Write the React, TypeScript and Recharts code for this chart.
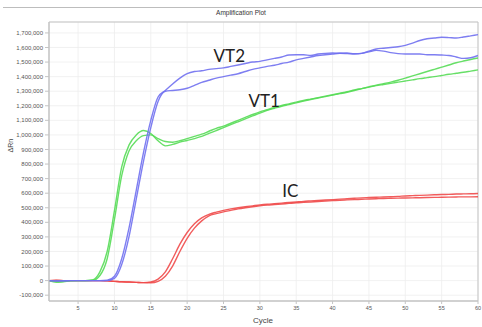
import React from "react";
import {
  LineChart,
  Line,
  XAxis,
  YAxis,
  CartesianGrid,
  ReferenceArea,
  ReferenceDot,
} from "recharts";

// cycle numbers 1..60
const cycles = [
  1, 2, 3, 4, 5, 6, 7, 8, 9, 10, 11, 12, 13, 14, 15, 16, 17, 18, 19, 20,
  21, 22, 23, 24, 25, 26, 27, 28, 29, 30, 31, 32, 33, 34, 35, 36, 37, 38, 39, 40,
  41, 42, 43, 44, 45, 46, 47, 48, 49, 50, 51, 52, 53, 54, 55, 56, 57, 58, 59, 60,
];

// ΔRn readings, in thousands
const vt1a = [
  0, -12, -8, -2, 0, 0, 5, 60, 200, 480, 780, 930, 1000, 1030, 1010, 960, 925, 935, 950, 962,
  975, 990, 1010, 1030, 1050, 1070, 1090, 1110, 1130, 1150, 1168, 1183, 1197, 1208, 1220, 1232, 1243, 1253, 1263, 1273,
  1283, 1293, 1305, 1318, 1330, 1342, 1352, 1362, 1375, 1390, 1405, 1420, 1435, 1450, 1465, 1480, 1495, 1507, 1518, 1528,
];
const vt1b = [
  0, -5, -3, 0, 0, 0, 2, 35, 150, 420, 720, 890, 960, 995, 1000, 975, 955, 950, 960, 975,
  990, 1005, 1025, 1045, 1060, 1080, 1100, 1120, 1140, 1158, 1173, 1188, 1202, 1213, 1225, 1236, 1246, 1256, 1266, 1276,
  1286, 1296, 1308, 1318, 1328, 1338, 1346, 1354, 1362, 1370, 1378, 1386, 1393, 1400, 1408, 1416, 1423, 1430, 1438, 1446,
];
const vt2a = [
  0, -3, -2, 0, 0, 0, 0, 0, 2, 30, 150, 360, 620, 880, 1100, 1260, 1305, 1350, 1390, 1420,
  1435, 1440, 1450, 1455, 1460, 1470, 1480, 1490, 1500, 1505, 1515, 1525, 1535, 1548, 1550, 1550, 1545, 1555, 1560, 1562,
  1560, 1562, 1558, 1560, 1570, 1580, 1575, 1565, 1558, 1555, 1555, 1555, 1550, 1550, 1548, 1545, 1535, 1525, 1530, 1545,
];
const vt2b = [
  0, -2, -1, 0, 0, 0, 0, 0, 0, 15, 110, 300, 560, 820, 1050, 1230, 1300, 1305, 1310, 1320,
  1340, 1360, 1375, 1390, 1400, 1410, 1420, 1435, 1450, 1460, 1470, 1478, 1490, 1500, 1515, 1525, 1535, 1545, 1550, 1555,
  1560, 1558, 1555, 1560, 1575, 1590, 1595, 1600, 1605, 1615, 1630, 1648, 1660, 1665, 1670, 1668, 1665, 1672, 1680, 1688,
];
const ica = [
  0, 2, 0, 0, 0, 0, 0, 0, -2, -5, -8, -10, -12, -14, -10, 10, 60, 150, 250, 330,
  390, 430, 455, 470, 482, 492, 500, 507, 513, 519, 524, 528, 532, 536, 540, 544, 547, 550, 553, 556,
  559, 562, 565, 568, 570, 572, 574, 576, 578, 581, 583, 585, 587, 589, 591, 592, 594, 595, 596, 598,
];
const icb = [
  0, 1, 0, 0, 0, 0, 0, 0, -2, -5, -8, -10, -12, -14, -15, -5, 30, 100, 200, 290,
  360, 410, 445, 460, 472, 482, 492, 500, 507, 513, 518, 522, 526, 530, 534, 537, 540, 543, 546, 549,
  552, 554, 556, 558, 560, 562, 564, 565, 566, 567, 568, 569, 570, 571, 572, 573, 574, 575, 575, 576,
];

const xTicks = [5, 10, 15, 20, 25, 30, 35, 40, 45, 50, 55, 60];
const yTicks = [
  -100000, 0, 100000, 200000, 300000, 400000, 500000, 600000, 700000, 800000, 900000,
  1000000, 1100000, 1200000, 1300000, 1400000, 1500000, 1600000, 1700000,
];

const notes = [
  { text: "VT2", cycle: 25.8, value: 1540000 },
  { text: "VT1", cycle: 30.6, value: 1235000 },
  { text: "IC", cycle: 34.2, value: 615000 },
];

const rows = cycles.map((c, i) => ({
  cycle: c,
  vt1a: vt1a[i] * 1000,
  vt1b: vt1b[i] * 1000,
  vt2a: vt2a[i] * 1000,
  vt2b: vt2b[i] * 1000,
  ica: ica[i] * 1000,
  icb: icb[i] * 1000,
}));

const series = [
  { key: "ica", color: "#f04a4a" },
  { key: "icb", color: "#f04a4a" },
  { key: "vt1a", color: "#56dc56" },
  { key: "vt1b", color: "#56dc56" },
  { key: "vt2a", color: "#7070f0" },
  { key: "vt2b", color: "#7070f0" },
];

const tickFont = { fontFamily: "Liberation Sans", fill: "#555" };

export default function App() {
  return (
    <div
      style={{
        position: "absolute",
        left: 0,
        top: 0,
        width: 482,
        height: 327,
        background: "#fff",
        fontFamily: "Liberation Sans",
      }}
    >
      <div
        style={{
          position: "absolute",
          left: 3,
          top: 7,
          width: 479,
          height: 1,
          background: "#bdbdbd",
        }}
      />
      <div
        style={{
          position: "absolute",
          left: 0,
          width: 482,
          top: 9,
          textAlign: "center",
          fontSize: 6.5,
          color: "#333",
          paddingLeft: 0,
        }}
      >
        Amplification Plot
      </div>
      <div
        style={{
          position: "absolute",
          left: 4,
          top: 143,
          width: 12,
          textAlign: "center",
          fontSize: 7,
          color: "#444",
          transform: "rotate(-90deg)",
        }}
      >
        ΔRn
      </div>
      <div
        style={{
          position: "absolute",
          left: 233,
          width: 60,
          top: 316,
          textAlign: "center",
          fontSize: 8,
          color: "#444",
        }}
      >
        Cycle
      </div>
      <LineChart
        width={482}
        height={327}
        data={rows}
        margin={{ top: 22, right: 4, left: 0, bottom: 0 }}
      >
        <CartesianGrid stroke="#ededed" strokeWidth={0.8} />
        <XAxis
          dataKey="cycle"
          type="number"
          domain={[1, 60]}
          ticks={xTicks}
          height={26}
          tickSize={3}
          tickMargin={2}
          stroke="#c4c4c4"
          tick={{ ...tickFont, fontSize: 5.5 }}
          interval={0}
        />
        <YAxis
          type="number"
          domain={[-140000, 1775000]}
          ticks={yTicks}
          width={49}
          tickSize={4}
          tickMargin={2}
          stroke="#c4c4c4"
          interval={0}
          tick={{ ...tickFont, fontSize: 6 }}
          tickFormatter={(v: number) => v.toLocaleString("en-US")}
        />
        <ReferenceArea
          x1={1}
          x2={60}
          y1={-140000}
          y2={1775000}
          fill="none"
          stroke="#c4c4c4"
          strokeWidth={1}
          ifOverflow="visible"
        />
        {series.map((s) => (
          <Line
            key={s.key}
            dataKey={s.key}
            type="monotone"
            stroke={s.color}
            strokeWidth={1.4}
            strokeOpacity={0.9}
            dot={false}
            isAnimationActive={false}
          />
        ))}
        {notes.map((n) => (
          <ReferenceDot
            key={n.text}
            x={n.cycle}
            y={n.value}
            r={0}
            stroke="none"
            fill="none"
            label={{
              value: n.text,
              position: "center",
              fontFamily: "Lato",
              fontSize: 17,
              fill: "#222",
            }}
          />
        ))}
      </LineChart>
    </div>
  );
}
